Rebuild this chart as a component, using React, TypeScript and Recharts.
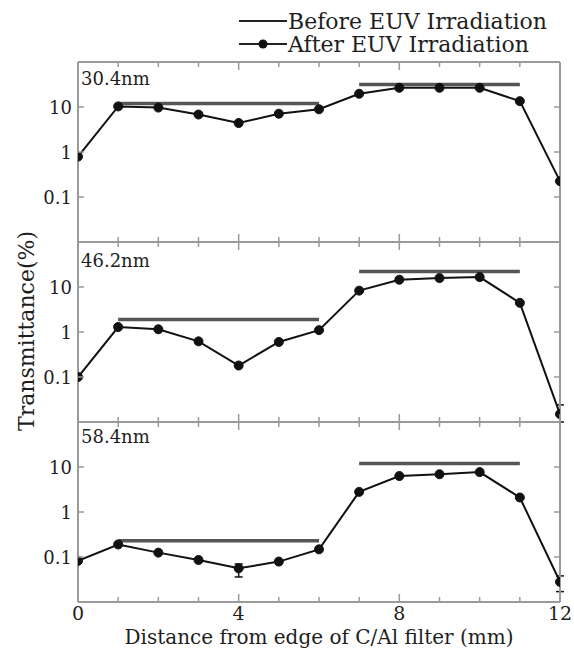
import React from 'react';
import { LineChart, Line, XAxis, YAxis, ErrorBar } from 'recharts';

// Distance from the edge of the C/Al filter (mm)
const positions = [0, 1, 2, 3, 4, 5, 6, 7, 8, 9, 10, 11, 12];

// Transmittance (%) after EUV irradiation, one array per wavelength
const after304 = [0.79, 10.3, 9.7, 6.8, 4.4, 7.1, 8.9, 19.7, 26.7, 26.7, 26.7, 13.5, 0.225];
const after462 = [0.1, 1.29, 1.15, 0.62, 0.18, 0.6, 1.1, 8.3, 14.5, 15.8, 16.6, 4.45, 0.015];
const after584 = [0.082, 0.19, 0.125, 0.086, 0.056, 0.079, 0.148, 2.8, 6.3, 6.9, 7.7, 2.1, 0.028];

// Transmittance (%) before irradiation: level over 1–6 mm and over 7–11 mm
const beforeRanges = [[1, 6], [7, 11]];
const before304 = [11.9, 31.6];
const before462 = [1.9, 22];
const before584 = [0.23, 12];

// Measurement spread [below, above] at a few positions
const err304: Record<number, [number, number]> = {};
const err462: Record<number, [number, number]> = { 12: [0.005, 0.009] };
const err584: Record<number, [number, number]> = { 4: [0.02, 0.014], 12: [0.011, 0.01] };

const wavelengths = ['30.4nm', '46.2nm', '58.4nm'];
const xLabelTicks = [0, 4, 8, 12];
const yTicks = [0.1, 1, 10];
const yDomain: [number, number] = [0.01, 100];

const FONT = "'DejaVu Serif', serif";
const TEXT = '#1e1e1e';
const FRAME = '#9a9a9a';
const BEFORE = '#555555';

type Row = { x: number; after: number; beforeA: number | null; beforeB: number | null; err?: [number, number] };

function buildRows(after: number[], before: number[], err: Record<number, [number, number]>): Row[] {
  return positions.map((x, i) => ({
    x,
    after: after[i],
    beforeA: x >= beforeRanges[0][0] && x <= beforeRanges[0][1] ? before[0] : null,
    beforeB: x >= beforeRanges[1][0] && x <= beforeRanges[1][1] ? before[1] : null,
    err: err[x],
  }));
}

const LeftTick = (props: any) => {
  const { x, y, payload } = props;
  return (
    <g>
      <line x1={x} y1={y} x2={x + 6} y2={y} stroke={FRAME} strokeWidth={1.5} />
      <text x={x - 6} y={y} textAnchor="end" dominantBaseline="central" fontSize={18} fontFamily={FONT} fill={TEXT}>
        {String(payload.value)}
      </text>
    </g>
  );
};

const RightTick = (props: any) => {
  const { x, y } = props;
  return <line x1={x - 6} y1={y} x2={x} y2={y} stroke={FRAME} strokeWidth={1.5} />;
};

const TopTick = (props: any) => {
  const { x, y, payload } = props;
  const len = xLabelTicks.includes(payload.value) ? 8 : 5;
  return <line x1={x} y1={y} x2={x} y2={y + len} stroke={FRAME} strokeWidth={1.5} />;
};

const makeBottomTick = (withLabels: boolean) => (props: any) => {
  const { x, y, payload } = props;
  const major = xLabelTicks.includes(payload.value);
  return (
    <g>
      <line x1={x} y1={y} x2={x} y2={y - (major ? 8 : 5)} stroke={FRAME} strokeWidth={1.5} />
      {withLabels && major ? (
        <text x={x} y={y + 11} textAnchor="middle" dominantBaseline="central" fontSize={19} fontFamily={FONT} fill={TEXT}>
          {String(payload.value)}
        </text>
      ) : null}
    </g>
  );
};

type PanelProps = { rows: Row[]; top: number; bottomSpace: number; withLabels: boolean };

function Panel({ rows, top, bottomSpace, withLabels }: PanelProps) {
  const plotH = 180;
  return (
    <div style={{ position: 'absolute', left: 0, top }}>
      <LineChart width={574} height={4 + plotH + bottomSpace} data={rows} margin={{ top: 0, right: 0, bottom: 0, left: 0 }}>
        <XAxis xAxisId="b" dataKey="x" type="number" domain={[0, 12]} ticks={positions} interval={0}
          orientation="bottom" height={bottomSpace} tickSize={0} tickMargin={0} tickLine={false}
          axisLine={{ stroke: FRAME, strokeWidth: 2 }} tick={makeBottomTick(withLabels)} allowDataOverflow />
        <XAxis xAxisId="t" dataKey="x" type="number" domain={[0, 12]} ticks={positions} interval={0}
          orientation="top" height={4} tickSize={0} tickMargin={0} tickLine={false}
          axisLine={{ stroke: FRAME, strokeWidth: 2 }} tick={<TopTick />} allowDataOverflow />
        <YAxis yAxisId="l" type="number" scale="log" domain={yDomain} ticks={yTicks} interval={0}
          width={78} tickSize={0} tickMargin={0} tickLine={false}
          axisLine={{ stroke: FRAME, strokeWidth: 2 }} tick={<LeftTick />} allowDataOverflow />
        <YAxis yAxisId="r" orientation="right" type="number" scale="log" domain={yDomain} ticks={yTicks} interval={0}
          width={14} tickSize={0} tickMargin={0} tickLine={false}
          axisLine={{ stroke: FRAME, strokeWidth: 2 }} tick={<RightTick />} allowDataOverflow />
        <Line xAxisId="b" yAxisId="l" dataKey="beforeA" type="linear" stroke={BEFORE} strokeWidth={3.5}
          dot={false} activeDot={false} connectNulls={false} isAnimationActive={false} />
        <Line xAxisId="b" yAxisId="l" dataKey="beforeB" type="linear" stroke={BEFORE} strokeWidth={3.5}
          dot={false} activeDot={false} connectNulls={false} isAnimationActive={false} />
        <Line xAxisId="b" yAxisId="l" dataKey="after" type="linear" stroke="#111" strokeWidth={2}
          dot={{ r: 4.5, fill: '#111', stroke: '#111', strokeWidth: 1 }} activeDot={false} isAnimationActive={false}>
          <ErrorBar dataKey="err" direction="y" width={4} stroke="#111" strokeWidth={1.5} />
        </Line>
      </LineChart>
    </div>
  );
}

export default function App() {
  const panels = [
    { rows: buildRows(after304, before304, err304), top: 58, bottomSpace: 4, withLabels: false, labelY: 78 },
    { rows: buildRows(after462, before462, err462), top: 238, bottomSpace: 4, withLabels: false, labelY: 260 },
    { rows: buildRows(after584, before584, err584), top: 418, bottomSpace: 48, withLabels: true, labelY: 436 },
  ];
  return (
    <div style={{ position: 'absolute', left: 0, top: 0, width: 574, height: 649, background: '#fff', overflow: 'hidden' }}>
      {panels.map((p, i) => (
        <Panel key={wavelengths[i]} rows={p.rows} top={p.top} bottomSpace={p.bottomSpace} withLabels={p.withLabels} />
      ))}
      <svg width={574} height={649} style={{ position: 'absolute', left: 0, top: 0, pointerEvents: 'none' }}>
        {/* legend */}
        <line x1={239} y1={21} x2={287} y2={21} stroke="#222" strokeWidth={2} />
        <text x={288} y={21} dominantBaseline="central" fontSize={22} fontFamily={FONT} fill={TEXT}>Before EUV Irradiation</text>
        <line x1={239} y1={44} x2={287} y2={44} stroke="#222" strokeWidth={2} />
        <circle cx={263} cy={44} r={4.5} fill="#111" />
        <text x={288} y={44} dominantBaseline="central" fontSize={22} fontFamily={FONT} fill={TEXT}>After EUV Irradiation</text>
        {/* wavelength labels */}
        {panels.map((p, i) => (
          <text key={wavelengths[i]} x={81} y={p.labelY} dominantBaseline="central" fontSize={18} fontFamily={FONT} fill={TEXT}>
            {wavelengths[i]}
          </text>
        ))}
        {/* axis titles */}
        <text x={26} y={331} transform="rotate(-90 26 331)" textAnchor="middle" dominantBaseline="central"
          fontSize={22} fontFamily={FONT} fill={TEXT}>Transmittance(%)</text>
        <text x={319} y={637} textAnchor="middle" dominantBaseline="central" fontSize={20} fontFamily={FONT} fill={TEXT}>
          Distance from edge of C/Al filter (mm)
        </text>
      </svg>
    </div>
  );
}
